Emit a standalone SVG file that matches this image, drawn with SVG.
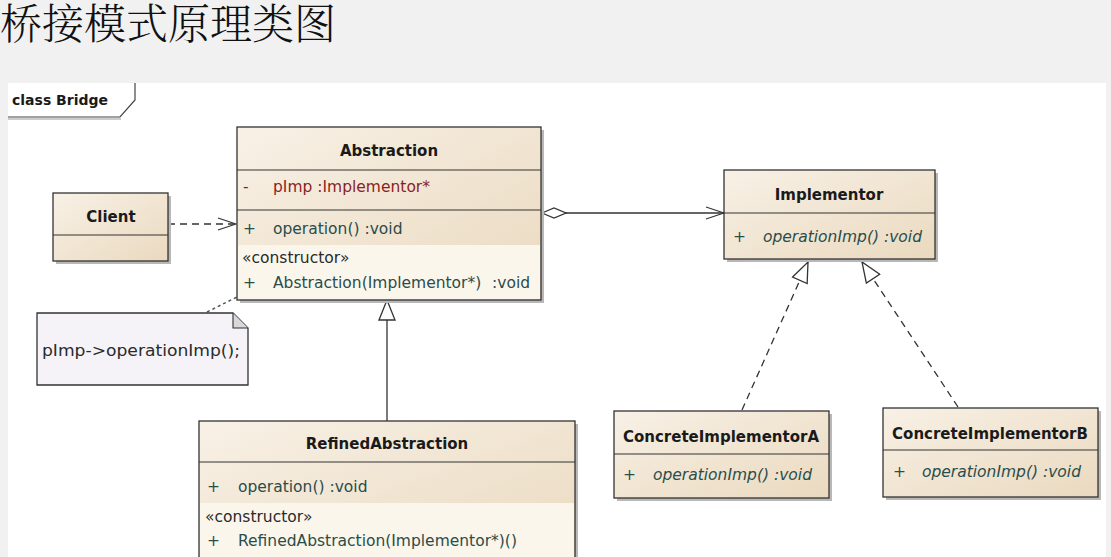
<svg xmlns="http://www.w3.org/2000/svg" width="1111" height="557" viewBox="0 0 1111 557">
<defs>
<linearGradient id="g" x1="0" y1="0" x2="1" y2="1">
<stop offset="0" stop-color="#f8f1e6"/>
<stop offset="1" stop-color="#ead9bf"/>
</linearGradient>
<marker id="vee" viewBox="0 0 20 14" refX="19" refY="7" markerWidth="20" markerHeight="14" markerUnits="userSpaceOnUse" orient="auto">
<path d="M1,1 L19,7 L1,13" fill="none" stroke="#333" stroke-width="1.3"/>
</marker>
<marker id="tri" viewBox="0 0 22 18" refX="21" refY="9" markerWidth="22" markerHeight="18" markerUnits="userSpaceOnUse" orient="auto">
<path d="M1,1 L21,9 L1,17 Z" fill="#fff" stroke="#333" stroke-width="1.3"/>
</marker>
<marker id="dia" viewBox="0 0 28 12" refX="1" refY="6" markerWidth="28" markerHeight="12" markerUnits="userSpaceOnUse" orient="auto">
<path d="M1,6 L13,1 L25,6 L13,11 Z" fill="#fff" stroke="#333" stroke-width="1.3"/>
</marker>
</defs>
<style>
.box{fill:url(#g);stroke:#333;stroke-width:1.3}
.sh{fill:#b8b8b8}
.div{stroke:#333;stroke-width:1.2}
.band{fill:#fbf6ec}
.t{font-family:"DejaVu Sans","Liberation Sans",sans-serif;font-weight:bold;font-size:15px;fill:#1a1a1a}
.m{font-family:"DejaVu Sans","Liberation Sans",sans-serif;font-size:15.5px;fill:#2a4d4a}
.i{font-style:italic}
.a{fill:#8b1f1f}
.k{font-family:"DejaVu Sans","Liberation Sans",sans-serif;font-size:15.5px;fill:#2a2a2a}
.ln{fill:none;stroke:#333;stroke-width:1.3}
.dash{stroke-dasharray:7 5}
</style>
<rect x="0" y="0" width="1111" height="557" fill="#f1f1f1"/>
<rect x="8" y="83" width="1098" height="474" fill="#ffffff"/>
<text x="0" y="39" font-family="'Noto Serif CJK SC','Noto Sans CJK SC',serif" font-size="42" font-weight="300" fill="#111">桥接模式原理类图</text>
<g id="frame">
<path d="M8,117 L120,117 L135,100 L135,83" fill="none" stroke="#444" stroke-width="1.2"/>
<path d="M8,119 L121,119" stroke="#bbb" stroke-width="1.5"/>
<text x="12" y="105" font-family="'DejaVu Sans','Liberation Sans',sans-serif" font-weight="bold" font-size="14" fill="#1a1a1a">class Bridge</text>
</g>
<g id="connectors">
<path class="ln dash" d="M168,224 L236,224" marker-end="url(#vee)"/>
<path class="ln" d="M542,213 L724,213" marker-start="url(#dia)" marker-end="url(#vee)"/>
<path class="ln" d="M387,421 L387,300" marker-end="url(#tri)"/>
<path class="ln dash" d="M742,410 L808,262" marker-end="url(#tri)"/>
<path class="ln dash" d="M958,407 L862,262" marker-end="url(#tri)"/>
<path d="M207,312 L237,297" fill="none" stroke="#555" stroke-width="1.5" stroke-dasharray="3 3"/>
</g>
<g id="Client">
<rect class="sh" x="56" y="196" width="115" height="68"/>
<rect class="box" x="53" y="193" width="115" height="68"/>
<line class="div" x1="53" y1="235" x2="168" y2="235"/>
<text class="t" x="111" y="222" text-anchor="middle">Client</text>
</g>
<g id="Abstraction">
<rect class="sh" x="240" y="130" width="304" height="173"/>
<rect class="box" x="237" y="127" width="304" height="173"/>
<rect class="band" x="238" y="245" width="302" height="54"/>
<line class="div" x1="237" y1="170" x2="541" y2="170"/>
<line class="div" x1="237" y1="210" x2="541" y2="210"/>
<text class="t" x="389" y="156" text-anchor="middle">Abstraction</text>
<text class="m a" x="243" y="192">-</text>
<text class="m a" x="273" y="192">pImp  :Implementor*</text>
<text class="m" x="243" y="234">+</text>
<text class="m" x="273" y="234">operation()  :void</text>
<text class="k" x="242" y="263">«constructor»</text>
<text class="m" x="243" y="288">+</text>
<text class="m" x="273" y="288">Abstraction(Implementor*)</text>
<text class="m" x="492" y="288">:void</text>
</g>
<g id="Note">
<path d="M37,313 L233,313 L248,328 L248,385 L37,385 Z" fill="#f5f3f7" stroke="#333" stroke-width="1.3"/>
<path d="M233,313 L233,328 L248,328" fill="#d8d8d8" stroke="#333" stroke-width="1.1"/>
<text class="k" x="42" y="356" font-size="16" textLength="198" lengthAdjust="spacingAndGlyphs">pImp-&gt;operationImp();</text>
</g>
<g id="Implementor">
<rect class="sh" x="727" y="173" width="211" height="89"/>
<rect class="box" x="724" y="170" width="211" height="89"/>
<line class="div" x1="724" y1="213" x2="935" y2="213"/>
<text class="t" x="829" y="200" text-anchor="middle">Implementor</text>
<text class="m" x="733" y="242">+</text>
<text class="m i" x="763" y="242">operationImp()  :void</text>
</g>
<g id="RefinedAbstraction">
<rect class="sh" x="202" y="424" width="376" height="140"/>
<rect class="box" x="199" y="421" width="376" height="140"/>
<rect class="band" x="200" y="503" width="374" height="57"/>
<line class="div" x1="199" y1="462" x2="575" y2="462"/>
<text class="t" x="387" y="449" text-anchor="middle">RefinedAbstraction</text>
<text class="m" x="207" y="492">+</text>
<text class="m" x="238" y="492">operation()  :void</text>
<text class="k" x="205" y="522">«constructor»</text>
<text class="m" x="207" y="546">+</text>
<text class="m" x="238" y="546">RefinedAbstraction(Implementor*)()</text>
</g>
<g id="ConcreteImplementorA">
<rect class="sh" x="617" y="414" width="215" height="87"/>
<rect class="box" x="614" y="411" width="215" height="87"/>
<line class="div" x1="614" y1="454" x2="829" y2="454"/>
<text class="t" x="721" y="442" text-anchor="middle">ConcreteImplementorA</text>
<text class="m" x="623" y="480">+</text>
<text class="m i" x="653" y="480">operationImp()  :void</text>
</g>
<g id="ConcreteImplementorB">
<rect class="sh" x="886" y="411" width="215" height="89"/>
<rect class="box" x="883" y="408" width="215" height="89"/>
<line class="div" x1="883" y1="450" x2="1098" y2="450"/>
<text class="t" x="990" y="439" text-anchor="middle">ConcreteImplementorB</text>
<text class="m" x="893" y="477">+</text>
<text class="m i" x="922" y="477">operationImp()  :void</text>
</g>
</svg>
